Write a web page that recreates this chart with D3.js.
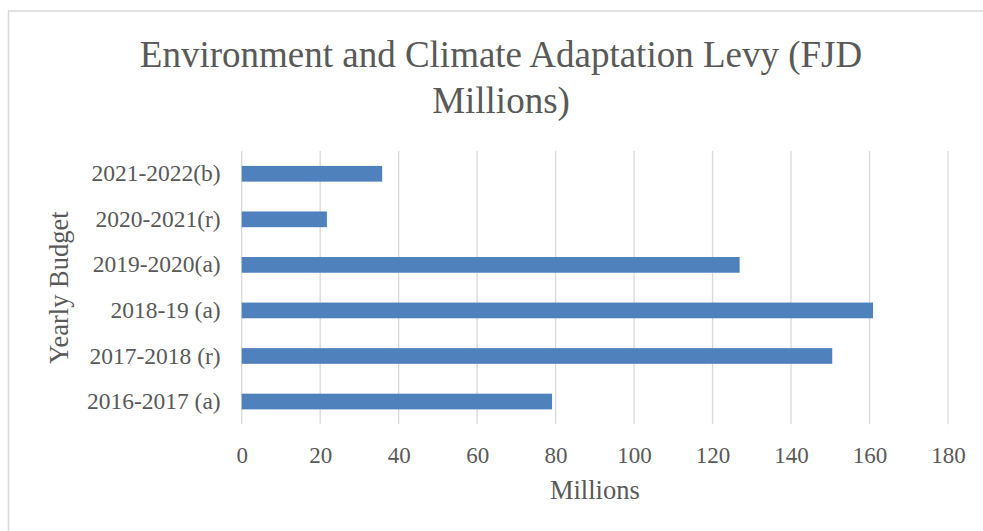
<!DOCTYPE html>
<html>
<head>
<meta charset="utf-8">
<script src="https://cdn.jsdelivr.net/npm/d3@7"></script>
<style>
  body { margin: 0; background: #fff; }
  text { font-family: "Liberation Serif", "Times New Roman", serif; fill: #595959; }
</style>
</head>
<body>
<div id="chart"></div>
<script>
var svgWidth = 983;
var svgHeight = 531;

// Data
var categories = ["2021-2022(b)", "2020-2021(r)", "2019-2020(a)", "2018-19 (a)", "2017-2018 (r)", "2016-2017 (a)"];
var values = [35.8, 21.7, 126.9, 160.9, 150.5, 79.1];
var xTicks = [0, 20, 40, 60, 80, 100, 120, 140, 160, 180];

var margin = { top: 151, right: 35, bottom: 106.7, left: 241.7 };
var width = svgWidth - margin.left - margin.right;
var height = svgHeight - margin.top - margin.bottom;

var data = categories.map(function(c, i) { return { cat: c, value: values[i] }; });

var svg = d3.select("#chart")
  .append("svg")
  .attr("width", svgWidth)
  .attr("height", svgHeight);

// chart border (runs off right and bottom)
svg.append("path")
  .attr("d", "M8.5," + svgHeight + "V11H" + svgWidth)
  .attr("fill", "none")
  .attr("stroke", "#d9d9d9")
  .attr("stroke-width", 1.5);

var chartGroup = svg.append("g")
  .attr("transform", `translate(${margin.left}, ${margin.top})`);

var xScale = d3.scaleLinear().domain([0, 180]).range([0, width]);
var yScale = d3.scaleBand()
  .domain(categories)
  .range([0, height])
  .paddingInner(0.655)
  .paddingOuter(0.3275);

// gridlines
chartGroup.append("g")
  .selectAll("line")
  .data(xTicks)
  .enter()
  .append("line")
  .attr("x1", d => xScale(d))
  .attr("x2", d => xScale(d))
  .attr("y1", 0)
  .attr("y2", height)
  .attr("stroke", "#d9d9d9")
  .attr("stroke-width", 1.3);

// bars
chartGroup.selectAll("rect")
  .data(data)
  .enter()
  .append("rect")
  .attr("x", xScale(0))
  .attr("y", d => yScale(d.cat))
  .attr("width", d => xScale(d.value) - xScale(0))
  .attr("height", yScale.bandwidth())
  .attr("fill", "#4f81bd");

// x axis
var xAxis = chartGroup.append("g")
  .attr("transform", `translate(0, ${height})`)
  .call(d3.axisBottom(xScale).tickValues(xTicks).tickSize(0).tickPadding(22));
xAxis.select(".domain").remove();
xAxis.selectAll("text")
  .attr("font-size", "23px")
  .attr("font-family", "Liberation Serif")
  .attr("fill", "#595959");

// y axis
var yAxis = chartGroup.append("g")
  .call(d3.axisLeft(yScale).tickSize(0).tickPadding(21));
yAxis.select(".domain").remove();
yAxis.selectAll("text")
  .attr("font-size", "23.5px")
  .attr("font-family", "Liberation Serif")
  .attr("fill", "#595959");

// axis titles
svg.append("text")
  .attr("x", margin.left + width / 2)
  .attr("y", 499)
  .attr("text-anchor", "middle")
  .attr("font-size", "26.5px")
  .text("Millions");

svg.append("text")
  .attr("transform", `translate(68, ${margin.top + height / 2}) rotate(-90)`)
  .attr("text-anchor", "middle")
  .attr("font-size", "26.5px")
  .text("Yearly Budget");

// title
var title = svg.append("text")
  .attr("text-anchor", "middle")
  .attr("font-size", "37px");
title.append("tspan").attr("x", 501).attr("y", 67).text("Environment and Climate Adaptation Levy (FJD");
title.append("tspan").attr("x", 501).attr("y", 113).text("Millions)");
</script>
</body>
</html>
